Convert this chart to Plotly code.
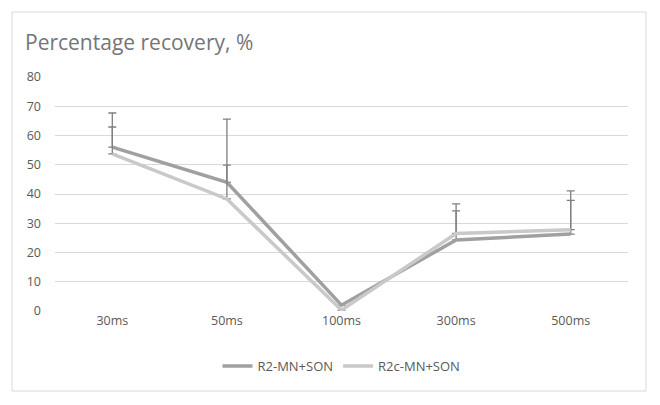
import plotly.graph_objects as go

categories = ["30ms", "50ms", "100ms", "300ms", "500ms"]
r2_values = [56.0, 44.0, 2.0, 24.3, 26.3]
r2_err = [11.7, 21.6, 0.0, 12.3, 14.8]
r2c_values = [53.7, 38.3, 0.3, 26.5, 27.8]
r2c_err = [9.2, 11.6, 0.0, 7.7, 10.0]
yticks = [0, 10, 20, 30, 40, 50, 60, 70, 80]

W, H = 660, 405
L, R, T, B = 55, 32, 77, 94
pw, ph = W - L - R, H - T - B

fig = go.Figure()
fig.add_trace(go.Scatter(
    x=categories, y=r2_values, mode="lines", name="R2-MN+SON",
    line=dict(color="#a0a0a0", width=3.5),
    error_y=dict(type="data", symmetric=False, array=r2_err,
                 arrayminus=[0] * len(r2_err), color="#7f7f7f",
                 thickness=1.3, width=4),
))
fig.add_trace(go.Scatter(
    x=categories, y=r2c_values, mode="lines", name="R2c-MN+SON",
    line=dict(color="#c9c9c9", width=3.5),
    error_y=dict(type="data", symmetric=False, array=r2c_err,
                 arrayminus=[0] * len(r2c_err), color="#7f7f7f",
                 thickness=1.3, width=4),
))

fig.update_layout(
    width=W, height=H,
    margin=dict(l=L, r=R, t=T, b=B),
    paper_bgcolor="white", plot_bgcolor="white",
    font=dict(family="Open Sans", size=12, color="#595959"),
    title=dict(text="Percentage recovery, %", x=25 / W, xref="container",
               xanchor="left", y=1 - 43 / H, yref="container", yanchor="middle",
               font=dict(size=21, color="#757575")),
    xaxis=dict(range=[-0.5, 4.5], showgrid=False, showline=False,
               zeroline=False, ticks="",
               tickfont=dict(size=12.5, color="#595959")),
    yaxis=dict(range=[0, 80], tickvals=yticks, showgrid=True,
               gridcolor="#d9d9d9", gridwidth=1, zeroline=False, showline=False,
               ticks="", ticklabelstandoff=13,
               tickfont=dict(size=12.5, color="#595959")),
    showlegend=True,
    legend=dict(orientation="h", x=0.5, xanchor="center",
                y=(311 - 366) / ph, yanchor="middle",
                font=dict(size=13, color="#595959")),
    shapes=[dict(type="rect", xref="paper", yref="paper",
                 x0=(12 - L) / pw, x1=(646 - L) / pw,
                 y0=(311 - 391) / ph, y1=(311 - 12) / ph,
                 line=dict(color="#d9d9d9", width=1), layer="below")],
)

fig.write_html("out.html")
